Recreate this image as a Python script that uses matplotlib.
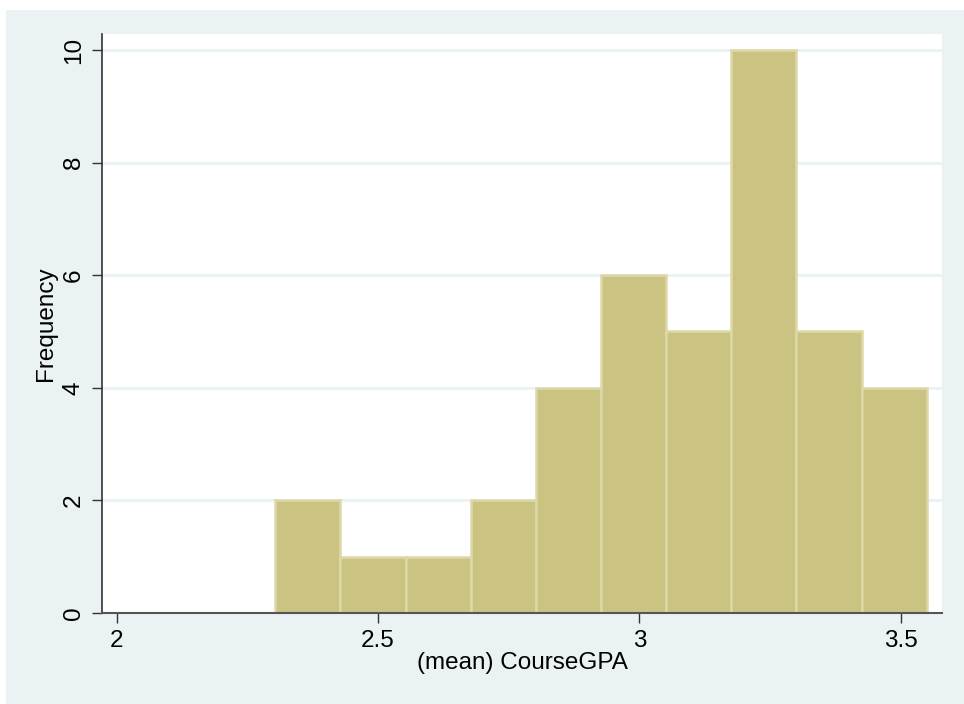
import numpy as np
import matplotlib.pyplot as plt
from matplotlib.patches import Rectangle

plt.rcParams['font.family'] = ['Liberation Sans', 'DejaVu Sans']

# histogram of course GPA: 10 bins
counts = [2, 1, 1, 2, 4, 6, 5, 10, 5, 4]
gpa_min = 2.3035
gpa_max = 3.5496
xticks = [2, 2.5, 3, 3.5]
xtick_labels = ['2', '2.5', '3', '3.5']
yticks = [0, 2, 4, 6, 8, 10]

edges = np.linspace(gpa_min, gpa_max, len(counts) + 1)
width = edges[1] - edges[0]

W, H = 964, 704
fig = plt.figure(figsize=(W / 100, H / 100), dpi=100, facecolor='white')
bg = '#EAF2F3'
fig.patches.append(Rectangle((6 / W, 0), 1 - 6 / W, 1 - 10 / H,
                             transform=fig.transFigure, facecolor=bg,
                             edgecolor='none', zorder=-5))

ax = fig.add_axes([102 / W, 1 - 613 / H, 840 / W, 579 / H])
ax.set_zorder(2)
ax.set_facecolor('white')

for y in yticks[1:]:
    ax.axhline(y, color=bg, lw=2, zorder=1)

ax.bar(edges[:-1], counts, width=width, align='edge',
       color='#CBC382', edgecolor='#DDD8A8', linewidth=1.8, zorder=2)

ax.set_xlim(1.9719, 3.579)
ax.set_ylim(0, 10.284)
ax.set_xticks(xticks)
ax.set_xticklabels(xtick_labels)
ax.set_yticks(yticks)
ax.set_yticklabels([str(v) for v in yticks], rotation=90, va='center')

for s in ['top', 'right']:
    ax.spines[s].set_visible(False)
ax.spines['left'].set_color('#333333')
ax.spines['bottom'].set_color('#555555')
ax.spines['left'].set_linewidth(1.2)
ax.spines['bottom'].set_linewidth(1.5)
ax.tick_params(axis='both', length=7.5, width=1.0, color='#333333',
               labelsize=17.5, pad=5)

ax.set_xlabel('(mean) CourseGPA', fontsize=17.5, labelpad=0)
ax.set_ylabel('Frequency', fontsize=17.5, labelpad=4)

fig.savefig('out.png', dpi=100, facecolor=fig.get_facecolor())
